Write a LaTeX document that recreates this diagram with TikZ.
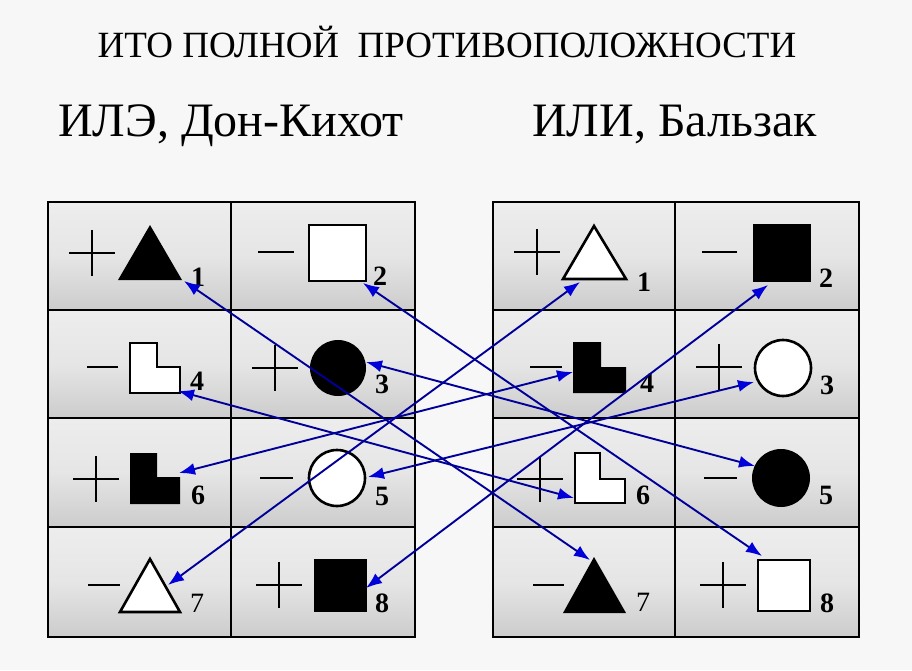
\documentclass[tikz,border=0pt]{standalone}
\usepackage{fontspec}
\setmainfont{Liberation Serif}
\usetikzlibrary{arrows.meta}

\tikzset{
  cell/.style={top color=black!7, bottom color=black!20, middle color=black!10},
  sign/.style={line width=2.6pt, black},
  figure/.style={line width=2.6pt, draw=black},
  num/.style={font=\fontsize{28}{28}\selectfont\bfseries},
  link/.style={line width=1.9pt, draw=blue!60!black,
    {Latex[length=16pt,width=12pt,color=blue!85!black]}-{Latex[length=16pt,width=12pt,color=blue!85!black]}}
}

\begin{document}
\begin{tikzpicture}[x=1pt, y=-1pt]
            \fill[black!3] (0,0) rectangle (912,670);
            \useasboundingbox (0,0) rectangle (912,670);

            % headings
            \node[anchor=base, font=\rmfamily\fontsize{37}{37}\selectfont] (title) at (447,57) {ИТО ПОЛНОЙ\ \ ПРОТИВОПОЛОЖНОСТИ};
            \node[anchor=base west, font=\rmfamily\fontsize{48}{48}\selectfont, inner sep=0pt] (ile) at (58,136) {ИЛЭ, Дон-Кихот};
            \node[anchor=base west, font=\rmfamily\fontsize{48}{48}\selectfont, inner sep=0pt] (ili) at (532,136) {ИЛИ, Бальзак};

            % tables
            \foreach \x/\X in {48/231, 231/415, 493/675, 675/859}
                \foreach \y/\Y in {202/310, 310/418, 418/527, 527/637}
                    \shade[cell] (\x,\y) rectangle (\X,\Y);
            \draw[line width=2.2pt] (48,202) rectangle (415,637) (231,202) -- (231,637)
                (48,310) -- (415,310) (48,418) -- (415,418) (48,527) -- (415,527);
            \draw[line width=2.2pt] (493,202) rectangle (859,637) (675,202) -- (675,637)
                (493,310) -- (859,310) (493,418) -- (859,418) (493,527) -- (859,527);

            % left table
            \draw[sign] (92,253) +(-23,0) -- +(23,0) +(0,-23) -- +(0,23);
            \fill (118,280) -- (150,225) -- (182,280) -- cycle;
            \node[num] (nl1) at (198,277) {1};
            \draw[sign] (258,252) -- (294,252);
            \draw[figure, fill=white] (309,225) rectangle (366,281);
            \node[num] (nl2) at (380,276) {2};
            \draw[sign] (87,367) -- (118,367);
            \draw[figure, fill=white] (130,343) -- (157,343) -- (157,367) -- (180,367) -- (180,393) -- (130,393) -- cycle;
            \node[num] (nl4) at (197,381) {4};
            \draw[sign] (275,368) +(-23,0) -- +(23,0) +(0,-23) -- +(0,23);
            \fill (338,368) circle (28);
            \node[num] (nl3) at (382,384) {3};
            \draw[sign] (96,479) +(-23,0) -- +(23,0) +(0,-23) -- +(0,23);
            \fill (130,453) -- (157,453) -- (157,477) -- (180,477) -- (180,504) -- (130,504) -- cycle;
            \node[num] (nl6) at (198,495) {6};
            \draw[sign] (260,478) -- (293,478);
            \draw[figure, fill=white] (337,478) circle (28);
            \node[num] (nl5) at (382,496) {5};
            \draw[sign] (88,585) -- (120,585);
            \draw[figure, fill=white] (120,612) -- (150,559) -- (180,612) -- cycle;
            \node[num, font=\fontsize{28}{28}\selectfont] (nl7) at (197,603) {7};
            \draw[sign] (279,585) +(-23,0) -- +(23,0) +(0,-23) -- +(0,23);
            \fill (314,559) rectangle (367,612);
            \node[num] (nl8) at (382,603) {8};

            % right table
            \draw[sign] (537,252) +(-23,0) -- +(23,0) +(0,-23) -- +(0,23);
            \draw[figure, fill=white] (563,279) -- (594,226) -- (626,279) -- cycle;
            \node[num] (nr1) at (644,282) {1};
            \draw[sign] (702,252) -- (737,252);
            \fill (753,224) rectangle (811,282);
            \node[num] (nr2) at (826,278) {2};
            \draw[sign] (530,367) -- (562,367);
            \fill (573,342) -- (601,342) -- (601,367) -- (626,367) -- (626,393) -- (573,393) -- cycle;
            \node[num] (nr4) at (647,383) {4};
            \draw[sign] (719,367) +(-23,0) -- +(23,0) +(0,-23) -- +(0,23);
            \draw[figure, fill=white] (783,368) circle (28);
            \node[num] (nr3) at (827,385) {3};
            \draw[sign] (540,479) +(-23,0) -- +(23,0) +(0,-23) -- +(0,23);
            \draw[figure, fill=white] (575,453) -- (600,453) -- (600,479) -- (625,479) -- (625,503) -- (575,503) -- cycle;
            \node[num] (nr6) at (643,495) {6};
            \draw[sign] (704,478) -- (737,478);
            \fill (781,478) circle (29);
            \node[num] (nr5) at (826,495) {5};
            \draw[sign] (533,585) -- (564,585);
            \fill (563,613) -- (594,557) -- (626,613) -- cycle;
            \node[num, font=\fontsize{28}{28}\selectfont] (nr7) at (643,602) {7};
            \draw[sign] (723,585) +(-23,0) -- +(23,0) +(0,-23) -- +(0,23);
            \draw[figure, fill=white] (758,560) rectangle (810,611);
            \node[num] (nr8) at (827,603) {8};

            % ends of the links
            \coordinate (L1) at (184,281);  \coordinate (R7) at (590,560);
            \coordinate (L2) at (363,283);  \coordinate (R8) at (762,556);
            \coordinate (L3) at (366,362);  \coordinate (R5) at (755,466);
            \coordinate (L4) at (178,391);  \coordinate (R6) at (574,498);
            \coordinate (L5) at (368,477);  \coordinate (R3) at (754,382);
            \coordinate (L6) at (179,473);  \coordinate (R4) at (573,372);
            \coordinate (L7) at (168,585);  \coordinate (R1) at (580,282);
            \coordinate (L8) at (366,588);  \coordinate (R2) at (768,285);

            \draw[link] (L1) -- (R7);
            \draw[link] (L2) -- (R8);
            \draw[link] (L3) -- (R5);
            \draw[link] (L4) -- (R6);
            \draw[link] (L5) -- (R3);
            \draw[link] (L6) -- (R4);
            \draw[link] (L7) -- (R1);
            \draw[link] (L8) -- (R2);
        \end{tikzpicture}
\end{document}
